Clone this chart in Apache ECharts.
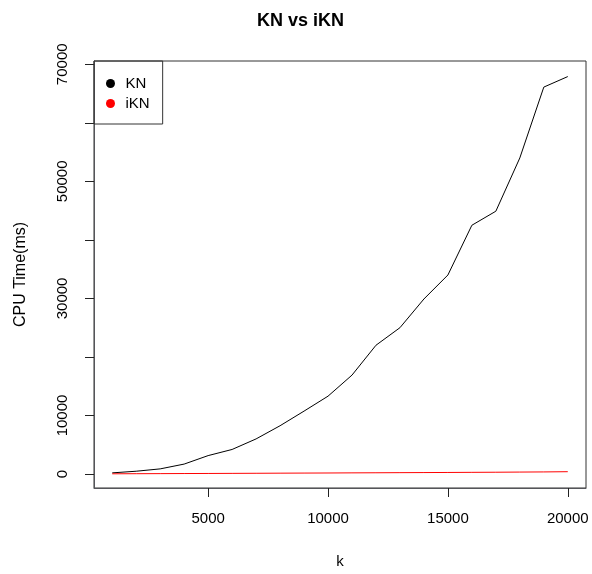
<!DOCTYPE html>
<html lang="en">
<head>
    <meta charset="UTF-8">
    <title>KN vs iKN</title>
    <script src="https://cdn.jsdelivr.net/npm/echarts@6.0.0/dist/echarts.min.js"></script>
    <style>
        html, body { margin: 0; padding: 0; background: #fff; }
        #chart { width: 592px; height: 574px; }
    </style>
</head>
<body>
    <div id="chart"></div>
    <script>
        // data
        const kValues = [1000, 2000, 3000, 4000, 5000, 6000, 7000, 8000, 9000, 10000,
                         11000, 12000, 13000, 14000, 15000, 16000, 17000, 18000, 19000, 20000];
        const knTimes = [200, 480, 880, 1700, 3150, 4200, 6000, 8250, 10750, 13300,
                         16900, 22000, 25000, 29900, 34000, 42500, 44900, 54000, 66100, 67900];
        const iknTimes = [40, 55, 70, 85, 100, 115, 130, 150, 165, 180,
                          200, 215, 235, 250, 270, 290, 310, 335, 360, 400];
        const xTicks = [5000, 10000, 15000, 20000];
        const yTicks = [0, 10000, 20000, 30000, 40000, 50000, 60000, 70000];
        const yLabels = [0, 10000, 30000, 50000, 70000];

        const font = 'Liberation Sans, Arial, sans-serif';
        const chart = echarts.init(document.getElementById('chart'));

        const pairs = (xs, ys) => xs.map((x, i) => [x, ys[i]]);
        const plain = v => String(v);

        chart.setOption({
            animation: false,
            title: {
                text: 'KN vs iKN',
                left: 252,
                top: 7,
                textStyle: { fontFamily: font, fontSize: 18, fontWeight: 'bold', color: '#000' }
            },
            legend: {
                left: 94,
                top: 61,
                orient: 'vertical',
                padding: [15, 13, 13, 12],
                itemWidth: 20,
                itemHeight: 9,
                itemGap: 5,
                borderColor: '#333',
                borderWidth: 1,
                textStyle: { fontFamily: font, fontSize: 15, color: '#000' },
                data: [
                    { name: 'KN', icon: 'circle', itemStyle: { color: '#000' } },
                    { name: 'iKN', icon: 'circle', itemStyle: { color: '#ff0000' } }
                ]
            },
            grid: {
                left: 94, right: 6, top: 61, bottom: 85,
                show: true, borderColor: '#333'
            },
            xAxis: [
                {
                    type: 'value',
                    min: 240,
                    max: 20760,
                    name: 'k',
                    nameLocation: 'middle',
                    nameGap: 66,
                    nameTextStyle: { fontFamily: font, fontSize: 15, color: '#000' },
                    axisLine: { show: true, onZero: false },
                    axisTick: { show: true, length: 9, customValues: xTicks, lineStyle: { color: '#222', width: 1 } },
                    axisLabel: { customValues: xTicks, formatter: plain, margin: 23, fontFamily: font, fontSize: 15, color: '#000' },
                    splitLine: { show: false }
                },
                {
                    // tick marks only, under the bottom edge of the box
                    type: 'value',
                    position: 'bottom',
                    min: 240,
                    max: 20760,
                    axisLine: { show: false, onZero: false },
                    axisTick: { show: true, length: 9, customValues: xTicks, lineStyle: { color: '#222', width: 1 } },
                    axisLabel: { show: false },
                    splitLine: { show: false }
                }
            ],
            yAxis: {
                type: 'value',
                min: -2385,
                max: 70560,
                name: 'CPU Time(ms)',
                nameLocation: 'middle',
                nameGap: 65,
                nameTextStyle: { fontFamily: font, fontSize: 16, color: '#000' },
                axisLine: { show: true },
                axisTick: { show: true, length: 9, customValues: yTicks, lineStyle: { color: '#222', width: 1 } },
                axisLabel: { customValues: yLabels, formatter: plain, rotate: 90, margin: 24, fontFamily: font, fontSize: 15, color: '#000' },
                splitLine: { show: false }
            },
            series: [
                {
                    name: 'KN',
                    type: 'line',
                    showSymbol: false,
                    color: '#000',
                    lineStyle: { width: 1, color: '#000' },
                    data: pairs(kValues, knTimes)
                },
                {
                    name: 'iKN',
                    type: 'line',
                    showSymbol: false,
                    color: '#ff0000',
                    lineStyle: { width: 1, color: '#ff0000' },
                    data: pairs(kValues, iknTimes)
                }
            ]
        });
    </script>
</body>
</html>
